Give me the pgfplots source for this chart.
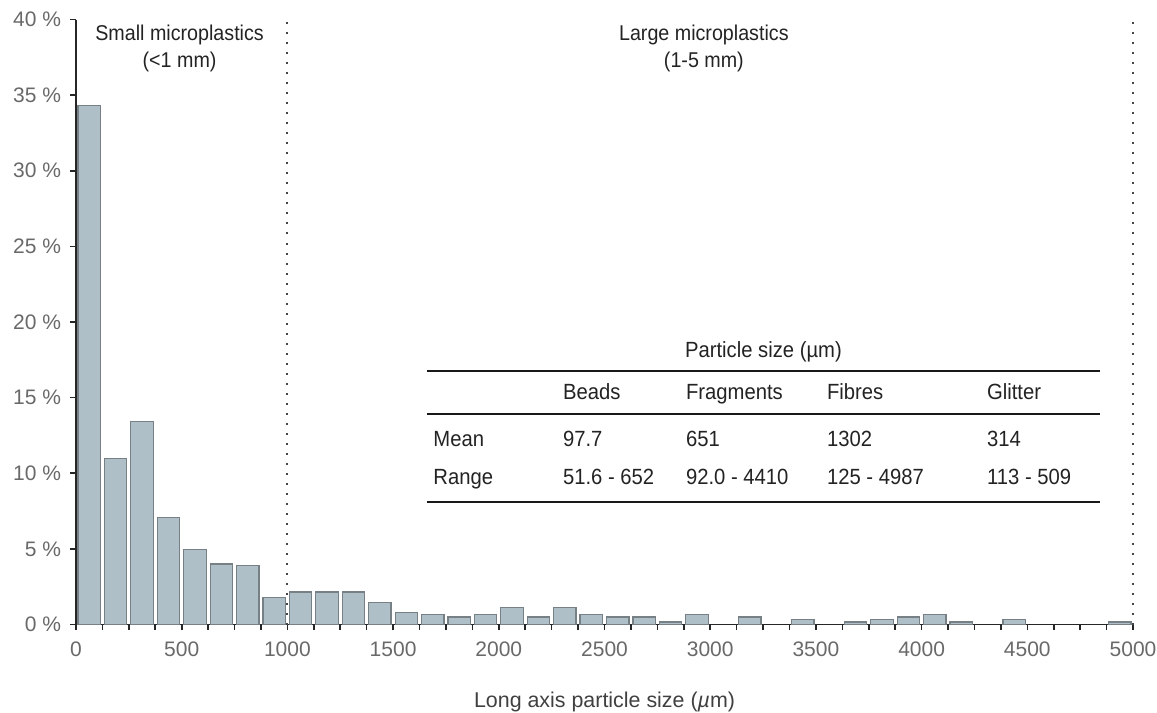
\documentclass[border=0pt]{standalone}
\usepackage{pgfplots}
\pgfplotsset{compat=1.18}
\usepackage{fontspec}
\setmainfont{Liberation Sans}
\newfontfamily\cond{Liberation Sans}[FakeStretch=0.92]
\definecolor{barfill}{RGB}{174,191,200}
\definecolor{baredge}{RGB}{118,128,133}
\definecolor{ticklab}{RGB}{105,105,105}
\definecolor{txt}{RGB}{35,35,35}
\definecolor{dotc}{RGB}{70,70,70}
\pgfplotstableread{
x y
62.5 34.3
187.5 11.0
312.5 13.4
437.5 7.05
562.5 4.95
687.5 4.0
812.5 3.9
937.5 1.8
1062.5 2.15
1187.5 2.15
1312.5 2.15
1437.5 1.48
1562.5 0.82
1687.5 0.66
1812.5 0.49
1937.5 0.66
2062.5 1.15
2187.5 0.49
2312.5 1.15
2437.5 0.66
2562.5 0.49
2687.5 0.49
2812.5 0.16
2937.5 0.66
3187.5 0.49
3437.5 0.33
3687.5 0.16
3812.5 0.33
3937.5 0.49
4062.5 0.66
4187.5 0.16
4437.5 0.33
4937.5 0.16
}\bins
\begin{document}
\begin{tikzpicture}
\begin{axis}[name=ax, scale only axis, width=528.5pt, height=302.5pt,
  xmin=0, xmax=5000, ymin=0, ymax=40,
  axis lines*=left,
  axis line style={line width=0.8pt, black!85},
  clip=false,
  xtick={0,500,...,5000},
  minor xtick={125,250,...,4875},
  ytick={0,5,...,40},
  tick align=outside,
  major tick length=2.8pt, minor tick length=2.8pt,
  every tick/.style={line width=0.8pt, black!85},
  minor tick style={line width=0.8pt, black!85},
  scaled x ticks=false,
  /pgf/number format/assume math mode=true,
  /pgf/number format/1000 sep={},
  yticklabel={\pgfmathprintnumber{\tick}\ \%},
  ticklabel style={font=\fontsize{10.5}{12}\selectfont, text=ticklab},
  xticklabel style={anchor=base, inner sep=0pt, yshift=-13pt},
  yticklabel style={anchor=east, inner sep=0pt, xshift=-4.5pt},
  xlabel={Long axis particle size (\textit{µ}m)},
  xlabel style={at={(axis description cs:0.5,0)}, anchor=base, yshift=-41.3pt,
    font=\fontsize{10.7}{12}\selectfont, text=black!75},
]
\addplot[ybar, bar width=106, bar shift=0pt, fill=barfill, draw=baredge, line width=0.6pt]
  table[x=x, y=y] {\bins};
\addplot[dotc, line width=1pt, dash pattern=on 1pt off 4pt] coordinates {(1000,0) (1000,40)};
\addplot[dotc, line width=1pt, dash pattern=on 1pt off 4pt] coordinates {(5000,0) (5000,40)};
% annotations
\node[font=\cond\fontsize{10.7}{12}\selectfont, text=txt, anchor=base] at (axis cs:490,38.62) {Small microplastics};
\node[font=\cond\fontsize{10.7}{12}\selectfont, text=txt, anchor=base] at (axis cs:490,36.84) {(<1 mm)};
\node[font=\cond\fontsize{10.7}{12}\selectfont, text=txt, anchor=base] at (axis cs:2970,38.62) {Large microplastics};
\node[font=\cond\fontsize{10.7}{12}\selectfont, text=txt, anchor=base] at (axis cs:2970,36.84) {(1-5 mm)};
% table
\begin{scope}[every node/.style={font=\cond\fontsize{11}{13}\selectfont, text=txt, anchor=base west, inner sep=0pt}]
\node[anchor=base] at (axis cs:3252,17.68) {Particle size (µm)};
\draw[line width=1pt, black!90] (axis cs:1662,16.75) -- (axis cs:4844,16.75);
\draw[line width=1pt, black!90] (axis cs:1662,13.94) -- (axis cs:4844,13.94);
\draw[line width=1pt, black!90] (axis cs:1662,8.09) -- (axis cs:4844,8.09);
\node at (axis cs:2302,14.86) {Beads};
\node at (axis cs:2884,14.86) {Fragments};
\node at (axis cs:3551,14.86) {Fibres};
\node at (axis cs:4308,14.86) {Glitter};
\node at (axis cs:1689,11.77) {Mean};
\node at (axis cs:2302,11.77) {97.7};
\node at (axis cs:2884,11.77) {651};
\node at (axis cs:3551,11.77) {1302};
\node at (axis cs:4308,11.77) {314};
\node at (axis cs:1689,9.26) {Range};
\node at (axis cs:2302,9.26) {51.6 - 652};
\node at (axis cs:2884,9.26) {92.0 - 4410};
\node at (axis cs:3551,9.26) {125 - 4987};
\node at (axis cs:4308,9.26) {113 - 509};
\end{scope}
\end{axis}
\pgfresetboundingbox
\path[use as bounding box] ([xshift=-38pt,yshift=-43.75pt]ax.south west) rectangle ([xshift=12pt,yshift=9.75pt]ax.north east);
\end{tikzpicture}
\end{document}
